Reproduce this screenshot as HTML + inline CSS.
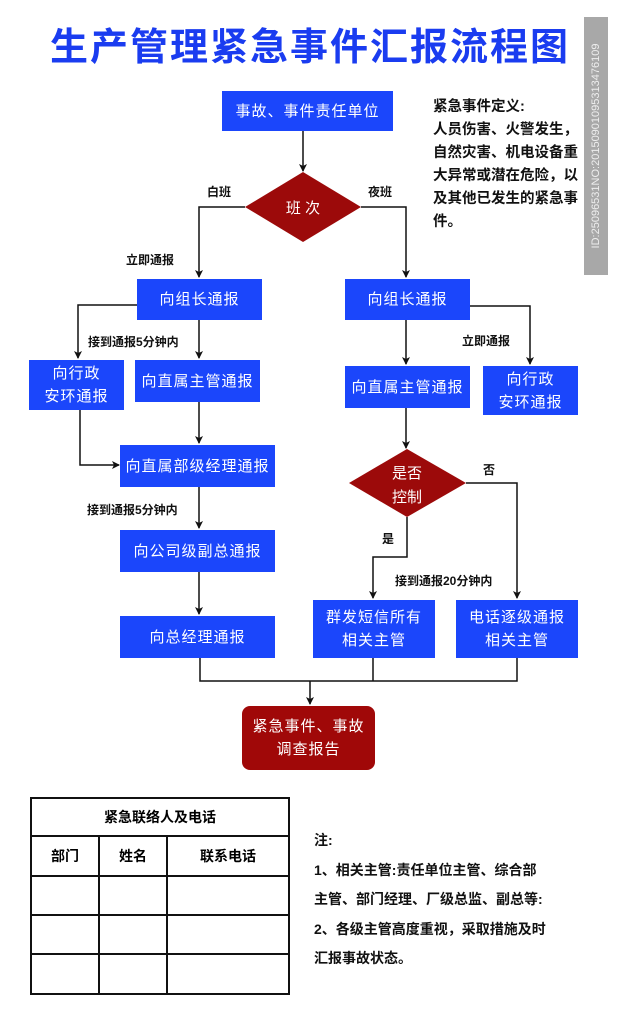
<!DOCTYPE html>
<html><head><meta charset="utf-8"><style>
body{margin:0;width:617px;height:1024px;background:#fff;position:relative;overflow:hidden;font-family:"Liberation Sans","Noto Sans CJK SC",sans-serif}
.b{position:absolute;background:#1b46fb;color:#fff;display:flex;align-items:center;justify-content:center;text-align:center;font-size:15px;line-height:23px;letter-spacing:1px}
.t{position:absolute;font-size:12px;font-weight:bold;color:#111;white-space:nowrap}
.d{position:absolute;font-size:15px;color:#111;white-space:nowrap;font-weight:bold}
svg{position:absolute;left:0;top:0}
table{position:absolute;left:30px;top:797px;border-collapse:collapse;width:260px}
td{border:2px solid #111;text-align:center;font-size:14px;padding:0;font-weight:bold}
</style></head><body>
<div style="position:absolute;left:50px;top:16px;font-size:38px;font-weight:bold;color:#1a3cf0;letter-spacing:2px;white-space:nowrap">生产管理紧急事件汇报流程图</div>
<div class="d" style="left:433px;top:96px;line-height:23px;font-size:14.5px">紧急事件定义:<br>人员伤害、火警发生，<br>自然灾害、机电设备重<br>大异常或潜在危险，以<br>及其他已发生的紧急事<br>件。</div>
<div style="position:absolute;left:584px;top:17px;width:24px;height:258px;background:#a8a8a8"></div>
<div style="position:absolute;left:596px;top:146px;transform:translate(-50%,-50%) rotate(-90deg);color:#eee;font-size:11px;white-space:nowrap">ID:25096531NO:20150901095313476109</div>
<svg width="617" height="1024">
<defs><marker id="a" markerWidth="8" markerHeight="8" refX="7" refY="4" orient="auto" markerUnits="userSpaceOnUse"><path d="M0,0 L8,4 L0,8 L2,4z" fill="#111"/></marker></defs>
<g stroke="#111" stroke-width="1.5" fill="none">
<path d="M303,131 V171" marker-end="url(#a)"/>
<path d="M245,207 H199 V277" marker-end="url(#a)"/>
<path d="M361,207 H406 V277" marker-end="url(#a)"/>
<path d="M137,305 H78 V358" marker-end="url(#a)"/>
<path d="M199,320 V358" marker-end="url(#a)"/>
<path d="M199,402 V443" marker-end="url(#a)"/>
<path d="M80,410 V465 H119" marker-end="url(#a)"/>
<path d="M199,486 V528" marker-end="url(#a)"/>
<path d="M199,572 V614" marker-end="url(#a)"/>
<path d="M406,320 V364" marker-end="url(#a)"/>
<path d="M470,306 H530 V364" marker-end="url(#a)"/>
<path d="M406,408 V448" marker-end="url(#a)"/>
<path d="M466,483 H517 V598" marker-end="url(#a)"/>
<path d="M407,517 V557 H373 V598" marker-end="url(#a)"/>
<path d="M200,658 V681 H517 V658 M373,658 V681"/>
<path d="M310,681 V704" marker-end="url(#a)"/>
</g>
<polygon points="303,172 361,207 303,242 245,207" fill="#9c0a0a"/>
<polygon points="407,449 466,483 407,517 349,483" fill="#9c0a0a"/>
<text x="303" y="213" fill="#fff" font-size="15" text-anchor="middle" font-family="Liberation Sans, Noto Sans CJK SC, sans-serif">班 次</text>
<text x="407" y="478" fill="#fff" font-size="15" text-anchor="middle" font-family="Liberation Sans, Noto Sans CJK SC, sans-serif">是否</text>
<text x="407" y="502" fill="#fff" font-size="15" text-anchor="middle" font-family="Liberation Sans, Noto Sans CJK SC, sans-serif">控制</text>
</svg>
<div class="b" style="left:222px;top:91px;width:171px;height:40px">事故、事件责任单位</div>
<div class="b" style="left:137px;top:279px;width:125px;height:41px">向组长通报</div>
<div class="b" style="left:345px;top:279px;width:125px;height:41px">向组长通报</div>
<div class="b" style="left:29px;top:360px;width:95px;height:50px">向行政<br>安环通报</div>
<div class="b" style="left:135px;top:360px;width:125px;height:42px">向直属主管通报</div>
<div class="b" style="left:120px;top:445px;width:155px;height:42px">向直属部级经理通报</div>
<div class="b" style="left:120px;top:530px;width:155px;height:42px">向公司级副总通报</div>
<div class="b" style="left:120px;top:616px;width:155px;height:42px">向总经理通报</div>
<div class="b" style="left:345px;top:366px;width:125px;height:42px">向直属主管通报</div>
<div class="b" style="left:483px;top:366px;width:95px;height:49px">向行政<br>安环通报</div>
<div class="b" style="left:313px;top:600px;width:122px;height:58px">群发短信所有<br>相关主管</div>
<div class="b" style="left:456px;top:600px;width:122px;height:58px">电话逐级通报<br>相关主管</div>
<div class="b" style="left:242px;top:706px;width:133px;height:64px;background:#a00808;border-radius:8px">紧急事件、事故<br>调查报告</div>
<div class="t" style="left:207px;top:183px">白班</div>
<div class="t" style="left:368px;top:183px">夜班</div>
<div class="t" style="left:126px;top:251px">立即通报</div>
<div class="t" style="left:88px;top:333px">接到通报5分钟内</div>
<div class="t" style="left:87px;top:501px">接到通报5分钟内</div>
<div class="t" style="left:462px;top:332px">立即通报</div>
<div class="t" style="left:483px;top:461px">否</div>
<div class="t" style="left:382px;top:530px">是</div>
<div class="t" style="left:395px;top:572px">接到通报20分钟内</div>
<table>
<tr style="height:38px"><td colspan="3">紧急联络人及电话</td></tr>
<tr style="height:40px"><td style="width:66px">部门</td><td style="width:66px">姓名</td><td>联系电话</td></tr>
<tr style="height:39px"><td></td><td></td><td></td></tr>
<tr style="height:39px"><td></td><td></td><td></td></tr>
<tr style="height:40px"><td></td><td></td><td></td></tr>
</table>
<div class="d" style="left:314px;top:826px;line-height:29.5px;font-size:14px">注:<br>1、相关主管:责任单位主管、综合部<br>主管、部门经理、厂级总监、副总等:<br>2、各级主管高度重视，采取措施及时<br>汇报事故状态。</div>
</body></html>
